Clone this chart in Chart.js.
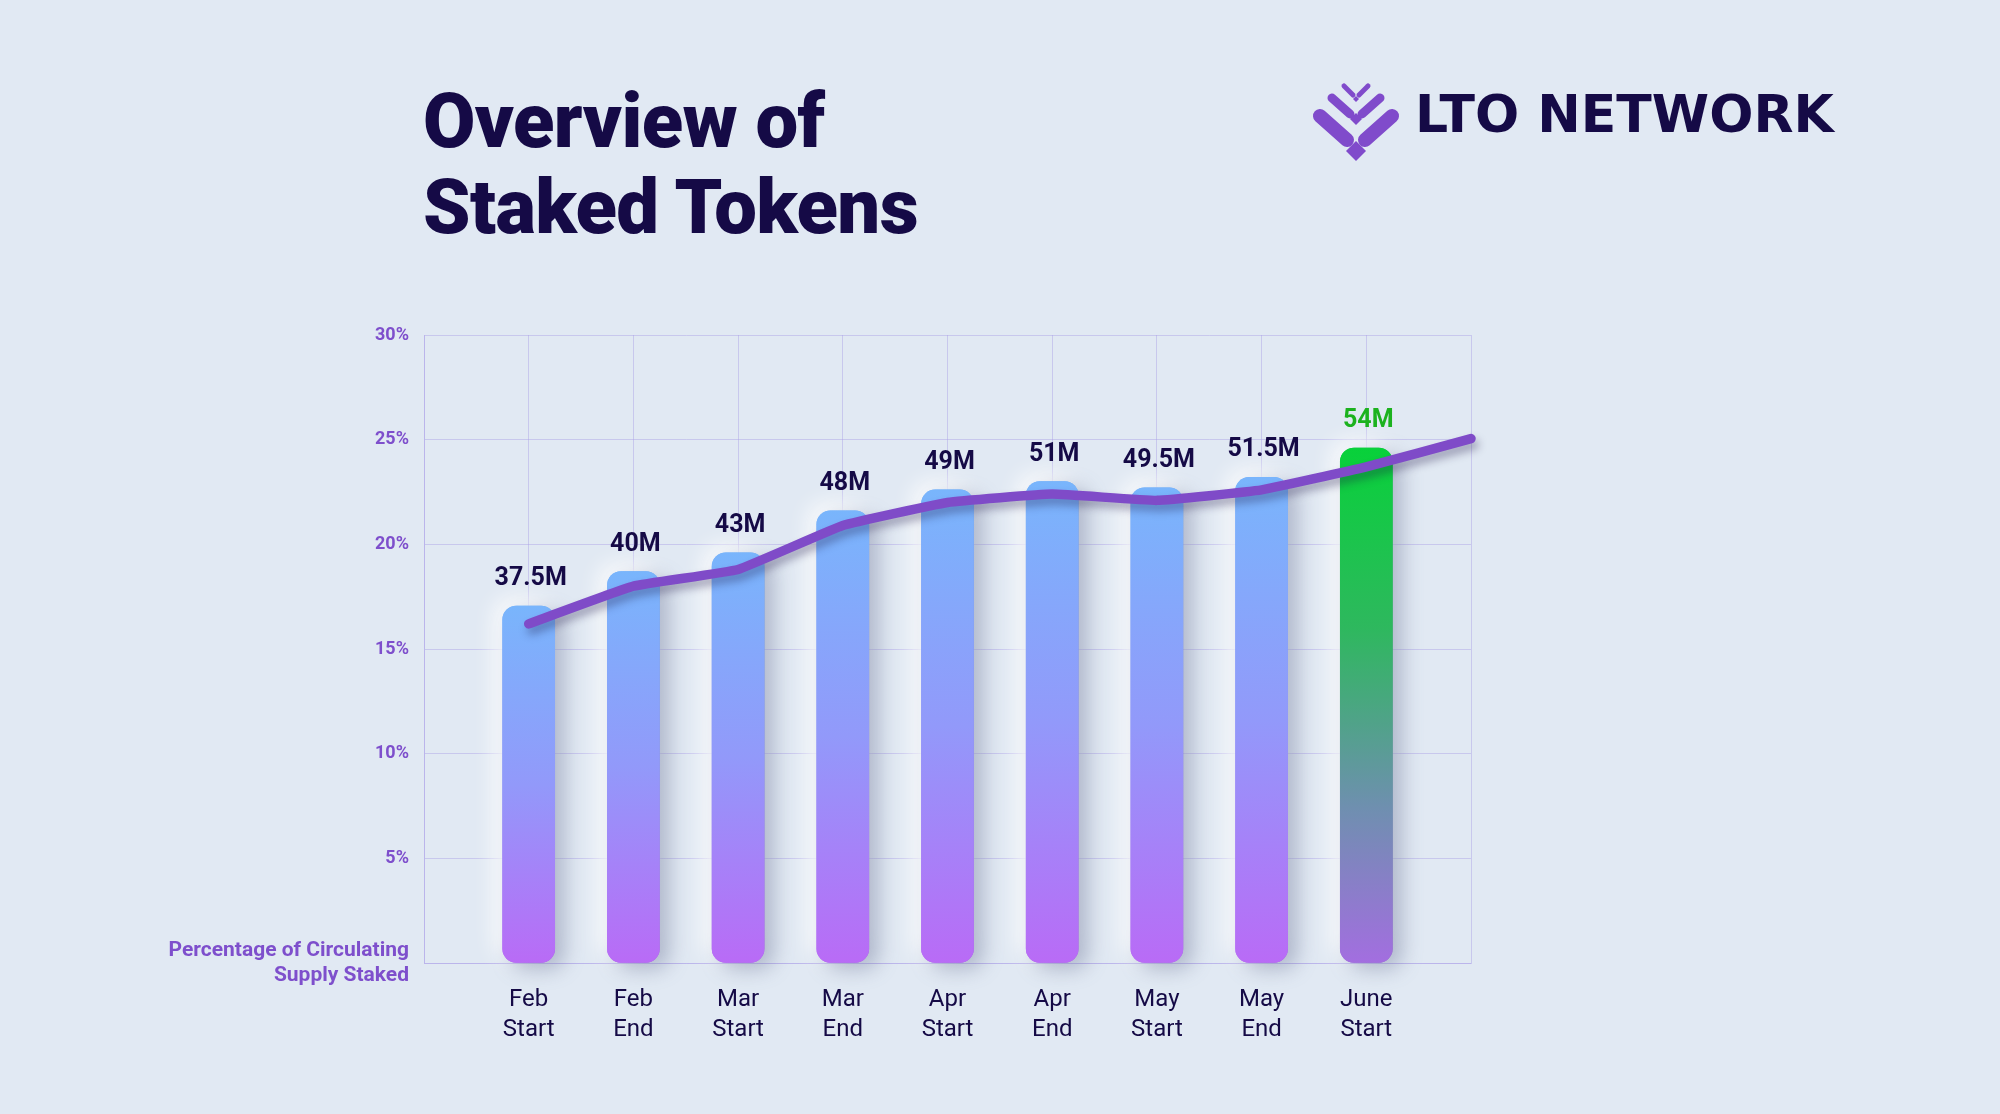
<!DOCTYPE html>
<html>
<head>
<meta charset="utf-8">
<title>Overview of Staked Tokens</title>
<script src="https://cdn.jsdelivr.net/npm/chart.js@4.4.1/dist/chart.umd.min.js"></script>
<style>
    html, body { margin: 0; padding: 0; background: #E1E9F3; }
    body { width: 2000px; height: 1114px; position: relative; overflow: hidden; }
    #title {
        position: absolute; left: 423px; top: 78px;
        font-family: Roboto, "Noto Sans", sans-serif; font-weight: 900;
        font-size: 76px; line-height: 86px; color: #150A46; letter-spacing: -0.6px;
    }
    #logo-icon { position: absolute; left: 1310px; top: 80px; }
    #logo-text {
        position: absolute; left: 1415px; top: 88px;
        font-family: "DejaVu Sans", sans-serif; font-weight: bold;
        font-size: 52px; line-height: 52px; color: #150A46; white-space: nowrap;
    }
    #chart { position: absolute; left: 0; top: 0; }
</style>
</head>
<body>
<div id="title">Overview of<br>Staked Tokens</div>
<svg id="logo-icon" width="100" height="90" viewBox="0 0 100 90">
    <g stroke="#804BCB" stroke-linecap="round" fill="none">
        <line x1="34" y1="6" x2="43" y2="15" stroke-width="5"/>
        <line x1="58" y1="6" x2="49" y2="15" stroke-width="5"/>
        <line x1="22" y1="18" x2="40" y2="34" stroke-width="9"/>
        <line x1="70" y1="18" x2="52" y2="34" stroke-width="9"/>
        <line x1="10" y1="36" x2="37" y2="60" stroke-width="14"/>
        <line x1="82" y1="36" x2="55" y2="60" stroke-width="14"/>
    </g>
    <g fill="#804BCB">
        <polygon points="46,16 49,19 46,22 43,19"/>
        <polygon points="46,33 52,39 46,45 40,39"/>
        <polygon points="46,61 56,71 46,81 36,71"/>
    </g>
</svg>
<div id="logo-text">LTO NETWORK</div>
<canvas id="chart" width="2000" height="1114"></canvas>

<script>
(function () {
    "use strict";

    // Categories (x axis)
    const categories = ["Feb Start", "Feb End", "Mar Start", "Mar End", "Apr Start",
                        "Apr End", "May Start", "May End", "June Start"];

    // Staked amount written above each bar
    const stakedLabels = ["37.5M", "40M", "43M", "48M", "49M", "51M", "49.5M", "51.5M", "54M"];

    // Bar heights as read on the % axis
    const barHeights = [17.05, 18.7, 19.6, 21.6, 22.6, 23.0, 22.7, 23.2, 24.6];

    // Line: percentage of circulating supply staked (last point sits on the right edge)
    const percentStaked = [16.2, 18.0, 18.8, 20.9, 22.0, 22.4, 22.1, 22.6, 23.7, 25.05];

    // Y ticks
    const yMax = 30;
    const yStep = 5;
    const yTitle = ["Percentage of Circulating", "Supply Staked"];

    const highlightIndex = categories.length - 1;

    // Colours
    const navy   = "#150A46";
    const purple = "#7E4FCC";
    const green  = "#1CB21E";
    const grid   = "rgba(170,160,230,0.45)";

    // Build the table the library needs: one empty slot on each side
    const labels   = [""].concat(categories.map((c) => c.split(" ")), [""]);
    const barData  = [null].concat(barHeights, [null]);
    const lineData = [null].concat(percentStaked);

    function barFill(c) {
        const chart = c.chart;
        const fallback = c.dataIndex - 1 === highlightIndex ? "#0BCF3A" : "#7AB4FC";
        if (!chart.chartArea || c.type !== "data" || c.raw == null || !chart.scales.y) return fallback;
        const y = chart.scales.y;
        const top = y.getPixelForValue(c.raw);
        const bottom = y.getPixelForValue(0);
        const g = chart.ctx.createLinearGradient(0, top, 0, bottom);
        if (c.dataIndex - 1 === highlightIndex) {
            g.addColorStop(0, "#08D13A");
            g.addColorStop(0.35, "#2EB85E");
            g.addColorStop(0.7, "#6F8FB0");
            g.addColorStop(1, "#A36EE0");
        } else {
            g.addColorStop(0, "#79B5FC");
            g.addColorStop(0.5, "#9299FA");
            g.addColorStop(1, "#B96BF6");
        }
        return g;
    }

    // Soft glow (white, top-left) and shadow (dark, bottom-right) under the marks
    const glowPlugin = {
        id: "glow",
        beforeDatasetDraw(chart, args) {
            const ctx = chart.ctx;
            const meta = args.meta;
            if (meta.type === "bar") {
                ctx.save();
                ctx.shadowColor = "rgba(255,255,255,1)";
                ctx.shadowBlur = 22;
                ctx.shadowOffsetX = -7;
                ctx.shadowOffsetY = -6;
                meta.data.forEach((el, i) => {
                    if (barData[i] != null) el.draw(ctx);
                });
                ctx.restore();
                ctx.save();
                ctx.shadowColor = "rgba(80,90,130,0.38)";
                ctx.shadowBlur = 20;
                ctx.shadowOffsetX = 9;
                ctx.shadowOffsetY = 6;
            } else {
                ctx.save();
                ctx.shadowColor = "rgba(30,20,70,0.35)";
                ctx.shadowBlur = 8;
                ctx.shadowOffsetX = 3;
                ctx.shadowOffsetY = 6;
            }
        },
        afterDatasetDraw(chart) {
            chart.ctx.restore();
        }
    };

    // Value labels above bars
    const valueLabels = {
        id: "valueLabels",
        afterDatasetsDraw(chart) {
            const ctx = chart.ctx;
            const meta = chart.getDatasetMeta(1);
            ctx.save();
            ctx.font = "bold 25px Roboto, sans-serif";
            ctx.textAlign = "center";
            ctx.textBaseline = "alphabetic";
            meta.data.forEach((el, i) => {
                if (barData[i] == null) return;
                const k = i - 1;
                ctx.fillStyle = k === highlightIndex ? green : navy;
                ctx.fillText(stakedLabels[k], el.x + 2, el.y - 21);
            });
            ctx.restore();
        }
    };

    new Chart(document.getElementById("chart"), {
        type: "bar",
        data: {
            labels: labels,
            datasets: [{
                type: "line",
                label: "Percentage of Circulating Supply Staked",
                data: lineData,
                borderColor: "#7F4BC8",
                borderWidth: 9.5,
                borderCapStyle: "round",
                borderJoinStyle: "round",
                tension: 0.1,
                pointRadius: 0,
                fill: false,
                clip: false,
                order: 0
            }, {
                type: "bar",
                label: "Staked Tokens",
                data: barData,
                backgroundColor: barFill,
                borderRadius: 14,
                borderSkipped: false,
                barThickness: 52,
                clip: false,
                order: 1
            }]
        },
        options: {
            responsive: false,
            animation: false,
            layout: { padding: { left: 0, right: 529, top: 335, bottom: 51 } },
            plugins: {
                legend: { display: false },
                tooltip: { enabled: false }
            },
            scales: {
                x: {
                    offset: false,
                    grid: { color: grid, offset: false, drawTicks: false },
                    border: { color: grid },
                    ticks: {
                        color: navy,
                        font: { family: "Roboto", size: 24, lineHeight: 1.25 },
                        padding: 22,
                        autoSkip: false,
                        maxRotation: 0
                    },
                    afterFit(scale) { scale.height = 100; }
                },
                y: {
                    min: 0,
                    max: yMax,
                    grid: { color: grid, drawTicks: false },
                    border: { color: grid },
                    ticks: {
                        stepSize: yStep,
                        padding: 15,
                        color: purple,
                        font: (c) => (c.tick && c.tick.value === 0)
                            ? { family: "Roboto", size: 21, weight: "bold", lineHeight: 1.2 }
                            : { family: "Roboto", size: 18, weight: "bold" },
                        callback: (v) => v === 0 ? yTitle : v + "%"
                    },
                    afterFit(scale) { scale.width = 424; }
                }
            }
        },
        plugins: [glowPlugin, valueLabels]
    });
})();
</script>
</body>
</html>
